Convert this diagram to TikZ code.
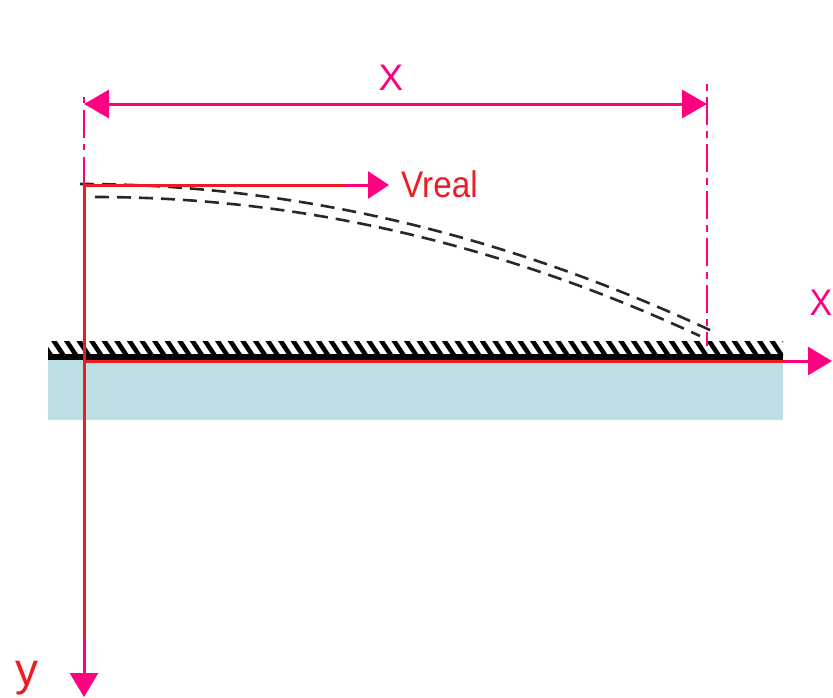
\documentclass[tikz,border=0pt]{standalone}
\usepackage{fontspec}
\setmainfont{Liberation Sans}
\usetikzlibrary{arrows.meta}
\definecolor{pinkc}{RGB}{255,0,128}
\definecolor{redc}{RGB}{237,28,36}
\definecolor{bluec}{RGB}{187,223,226}
\definecolor{curvec}{RGB}{40,40,40}
\tikzset{
  pinkline/.style={draw=pinkc,line width=3pt},
  redline/.style={draw=redc,line width=3pt},
  tipa/.style={-{Triangle[length=24pt,width=28pt]}},
  dimline/.style={pinkline,{Triangle[length=25pt,width=28pt]}-{Triangle[length=25pt,width=28pt]}},
  dashdot/.style={draw=pinkc,line width=2.8pt},
  trajectory/.style={draw=curvec,line width=2.6pt,dash pattern=on 14pt off 8pt},
  lbl/.style={inner sep=0pt,font=\fontsize{37}{37}\selectfont},
}
\begin{document}
\begin{tikzpicture}[x=1pt,y=-1pt]
\useasboundingbox (0,0) rectangle (833,697);
% coordinates
\coordinate (O) at (84,361);
\coordinate (Xred) at (785,361);
\coordinate (Xtip) at (832,361);
\coordinate (Ytop) at (84,184);
\coordinate (Yred) at (84,638);
\coordinate (Ytip) at (84,697);
\coordinate (Vstart) at (84,185);
\coordinate (Vred) at (345,185);
\coordinate (Vtip) at (389,185);
\coordinate (DL) at (84,104);
\coordinate (DR) at (707,104);
\coordinate (LDtop) at (84,97);
\coordinate (LDbot) at (84,185);
\coordinate (RDtop) at (707,84);
\coordinate (RDbot) at (707,346);
% ground
\fill[bluec] (48,359) rectangle (783,420);
\begin{scope}
\clip (48,341) rectangle (783,356);
\fill[white] (48,341) rectangle (783,356);
\foreach \i in {0,...,60}
  \draw[black,line width=4.6pt] ({38+\i*12.6},336) -- ++(14,21);
\end{scope}
\fill[black] (48,354) rectangle (783,359.5);
% trajectories
\draw[trajectory] (80,184) .. controls (290.7,184) and (501.3,233) .. (712,331);
\draw[trajectory] (95,197) .. controls (298.3,197) and (500,243.3) .. (700,336);
% dash-dot lines
\draw[dashdot,dash pattern=on 6pt off 7pt on 28pt off 6pt] (LDtop) -- (LDbot);
\draw[dashdot,dash pattern=on 7pt off 6pt on 28pt off 6pt] (RDtop) -- (RDbot);
% dimension
\draw[dimline] (DL) -- (DR);
\node[lbl,text=pinkc,anchor=base] (xl) at (391,90) {X};
% axes
\draw[redline] (O) -- (Xred);
\draw[pinkline,tipa] (Xred) -- (Xtip);
\draw[redline] (Ytop) -- (Yred);
\draw[pinkline,tipa] (Yred) -- (Ytip);
% Vreal
\draw[redline] (Vstart) -- (Vred);
\draw[pinkline,-{Triangle[length=21pt,width=27pt]}] (Vred) -- (Vtip);
\node[lbl,text=redc,anchor=base west,xscale=0.9] (vl) at (401,197) {Vreal};
\node[lbl,text=pinkc,anchor=base east,xscale=0.92] (xr) at (832.5,315) {X};
\node[inner sep=0pt,font=\fontsize{46}{46}\selectfont,text=redc,anchor=base] (yl) at (27.5,685) {y};
\end{tikzpicture}
\end{document}
